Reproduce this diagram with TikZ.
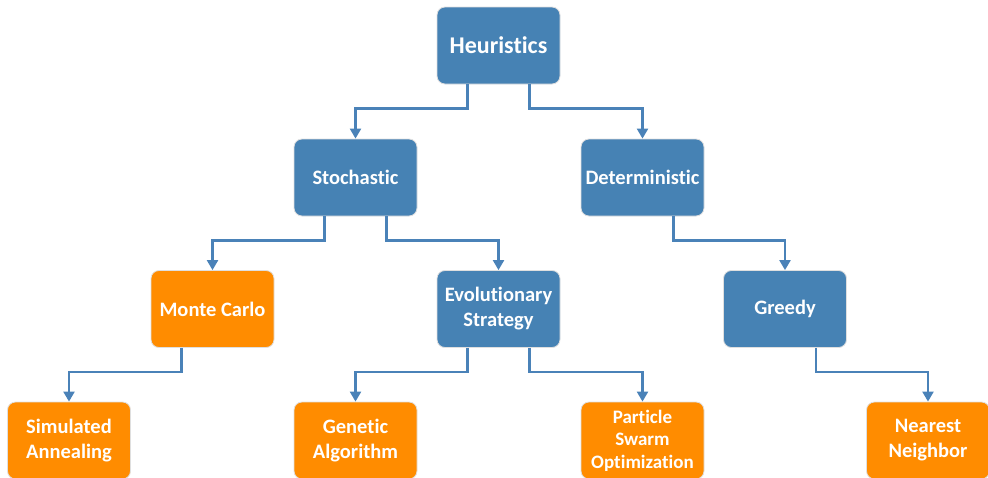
\documentclass[tikz,border=0pt]{standalone}
\usepackage{fontspec}
\setmainfont{Carlito}[RawFeature=-liga]
\usetikzlibrary{arrows.meta}
\definecolor{boxblue}{RGB}{70,130,180}
\definecolor{boxorange}{RGB}{255,140,0}
\definecolor{linkblue}{RGB}{74,130,184}
\begin{document}
\begin{tikzpicture}[x=1pt,y=1pt,
  basebox/.style={rounded corners=8pt, minimum width=123pt, minimum height=77pt,
    inner sep=0pt, align=center, text=white, draw=white!75!gray, line width=0.8pt,
    font=\bfseries\fontsize{20.5}{25}\selectfont},
  bluebox/.style={basebox, fill=boxblue},
  orangebox/.style={basebox, fill=boxorange},
  conn/.style={draw=linkblue, line width=2.2pt, -{Triangle[length=10pt,width=11pt]}}]
\useasboundingbox (0,0) rectangle (988,-477);
\node[bluebox, font=\bfseries\fontsize{24}{29}\selectfont] (h) at (498.5,-45.5) {Heuristics};
\node[bluebox] (s) at (355.5,-177.5) {Stochastic};
\node[bluebox] (d) at (642.5,-177.5) {Deterministic};
\node[orangebox] (mc) at (212.5,-309) {Monte Carlo};
\node[bluebox] (es) at (498.5,-309) {Evolutionary\\Strategy};
\node[bluebox] (g) at (785,-309) {Greedy};
\node[orangebox] (sa) at (69,-440.5) {Simulated\\Annealing};
\node[orangebox] (ga) at (355.5,-440.5) {Genetic\\Algorithm};
\node[orangebox, font=\bfseries\fontsize{19}{22.5}\selectfont] (ps) at (642.5,-440.5) {Particle\\Swarm\\Optimization};
\node[orangebox] (nn) at (928,-440.5) {Nearest\\Neighbor};
\draw[conn] ([xshift=-31pt]h.south) -- ++(0,-24) -| (s.north);
\draw[conn] ([xshift=31pt]h.south) -- ++(0,-24) -| (d.north);
\draw[conn] ([xshift=-31pt]s.south) -- ++(0,-24) -| (mc.north);
\draw[conn] ([xshift=31pt]s.south) -- ++(0,-24) -| (es.north);
\draw[conn] ([xshift=31pt]d.south) -- ++(0,-24) -| (g.north);
\draw[conn] ([xshift=-31pt]mc.south) -- ++(0,-24) -| (sa.north);
\draw[conn] ([xshift=-31pt]es.south) -- ++(0,-24) -| (ga.north);
\draw[conn] ([xshift=31pt]es.south) -- ++(0,-24) -| (ps.north);
\draw[conn] ([xshift=31pt]g.south) -- ++(0,-24) -| (nn.north);
\end{tikzpicture}
\end{document}
